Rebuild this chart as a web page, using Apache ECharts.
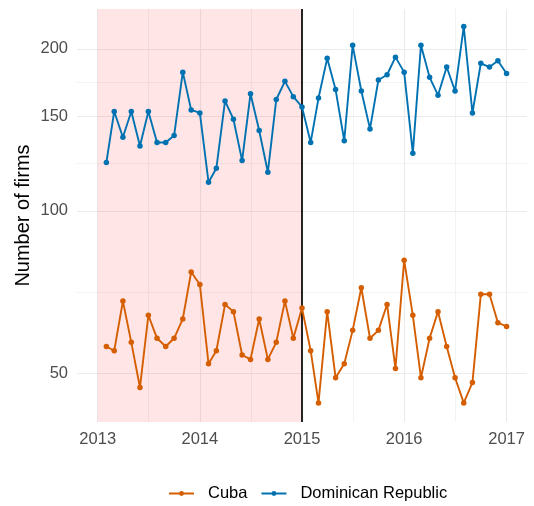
<!DOCTYPE html>
<html>
<head>
<meta charset="utf-8">
<script src="https://cdn.jsdelivr.net/npm/echarts@6/dist/echarts.min.js"></script>
<style>html,body{margin:0;padding:0;background:#fff}#c{width:534px;height:506px}</style>
</head>
<body>
<div id="c"></div>
<script>
const months = [
 '2013-02-01','2013-03-01','2013-04-01','2013-05-01','2013-06-01','2013-07-01','2013-08-01','2013-09-01','2013-10-01','2013-11-01','2013-12-01',
 '2014-01-01','2014-02-01','2014-03-01','2014-04-01','2014-05-01','2014-06-01','2014-07-01','2014-08-01','2014-09-01','2014-10-01','2014-11-01','2014-12-01',
 '2015-01-01','2015-02-01','2015-03-01','2015-04-01','2015-05-01','2015-06-01','2015-07-01','2015-08-01','2015-09-01','2015-10-01','2015-11-01','2015-12-01',
 '2016-01-01','2016-02-01','2016-03-01','2016-04-01','2016-05-01','2016-06-01','2016-07-01','2016-08-01','2016-09-01','2016-10-01','2016-11-01','2016-12-01',
 '2017-01-01'
];
const cuba = [56,55,68,57,47,64,58,56,58,63,77,73,52,55,67,65,54,53,63,53,57,68,58,66,
              55,44,65,49,52,60,72,58,60,67,51,81,64,49,58,65,56,49,44,48,70,70,62,61];
const dominican = [123,153,137,153,132,153,134,134,138,181,154,152,113,120,160,148,124,165,141,118,161,174,163,156,
                   134,162,192,168,135,203,167,142,175,179,193,181,128,203,177,164,185,167,220,152,188,185,190,180];
const seriesNames = ['Cuba','Dominican Republic'];
const colors = ['#D55E00','#0072B2'];
const yMajor = [50,100,150,200];
const yMinor = [70.71,122.47,173.21];
const xMajor = ['2013-01-01','2014-01-01','2015-01-01','2016-01-01','2017-01-01'];
const xMajorLabels = ['2013','2014','2015','2016','2017'];
const xMinor = ['2013-07-02','2014-07-02','2015-07-02','2016-07-01'];
const shadeRange = ['2013-01-01','2015-01-01'];
const policyDate = '2015-01-01';
const xLimits = ['2012-10-19','2017-03-15'];
const yLimits = [40.55,237.1];

const gridColor = '#EBEBEB';
const labelColor = '#4D4D4D';
const font = 'Liberation Sans, Arial, sans-serif';
const axisFont = 16.5;

const gridLines = [];
yMajor.forEach(v => gridLines.push({yAxis: v, lineStyle:{width:1.1, color:gridColor, type:'solid'},
  label:{show:true, position:'start', formatter:String(v), color:labelColor, fontSize:axisFont, fontFamily:font, distance:9}}));
yMinor.forEach(v => gridLines.push({yAxis: v, lineStyle:{width:0.6, color:gridColor, type:'solid'}, label:{show:false}}));
xMajor.forEach((d,i) => gridLines.push({xAxis: d, lineStyle:{width:1.1, color:gridColor, type:'solid'},
  label:{show:true, position:'start', formatter:xMajorLabels[i], color:labelColor, fontSize:axisFont, fontFamily:font, distance:9}}));
xMinor.forEach(d => gridLines.push({xAxis: d, lineStyle:{width:0.6, color:gridColor, type:'solid'}, label:{show:false}}));

const chart = echarts.init(document.getElementById('c'), null, {renderer:'canvas'});
chart.setOption({
  animation: false,
  backgroundColor: '#fff',
  textStyle: {fontFamily: font},
  grid: {left: 77, right: 7, top: 9, bottom: 84, containLabel: false},
  xAxis: {
    type: 'time',
    min: xLimits[0], max: xLimits[1],
    axisLine: {show:false}, axisTick: {show:false}, splitLine: {show:false},
    axisLabel: {show:false}
  },
  yAxis: {
    type: 'log', logBase: 10,
    min: yLimits[0], max: yLimits[1],
    axisLine: {show:false}, axisTick: {show:false}, splitLine: {show:false}, minorSplitLine:{show:false},
    axisLabel: {show:false},
    name: 'Number of firms', nameLocation: 'middle', nameGap: 44, nameRotate: 90,
    nameTextStyle: {color:'#000', fontSize:20, fontFamily:font}
  },
  legend: {
    data: seriesNames,
    left: 168, top: 485, padding: 0,
    itemWidth: 25, itemHeight: 6, itemGap: 13,
    textStyle: {color:'#000', fontSize:axisFont, fontFamily:font, padding:[0,0,0,9]}
  },
  series: [
    {
      type:'line', name:'_grid', data:[], z:0, silent:true,
      markLine: {silent:true, z:0, symbol:['none','none'], animation:false, data: gridLines}
    },
    {
      type:'line', name:'_shade', data:[], z:1, silent:true,
      markArea: {silent:true, z:1, itemStyle:{color:'rgba(255,0,0,0.1)'}, data:[[{xAxis:shadeRange[0]},{xAxis:shadeRange[1]}]]}
    },
    {
      type:'line', name:'_vline', data:[], z:2, silent:true,
      markLine: {silent:true, z:2, symbol:['none','none'], label:{show:false},
        lineStyle:{color:'#000', width:1.7, type:'solid'}, data:[{xAxis:policyDate}]}
    },
    {
      type:'line', name: seriesNames[0], z:3,
      data: months.map((m,i) => [m, cuba[i]]),
      itemStyle:{color:colors[0]}, lineStyle:{color:colors[0], width:1.9},
      symbol:'circle', symbolSize:5.5, showSymbol:true
    },
    {
      type:'line', name: seriesNames[1], z:3,
      data: months.map((m,i) => [m, dominican[i]]),
      itemStyle:{color:colors[1]}, lineStyle:{color:colors[1], width:1.9},
      symbol:'circle', symbolSize:5.5, showSymbol:true
    }
  ]
});
</script>
</body>
</html>
